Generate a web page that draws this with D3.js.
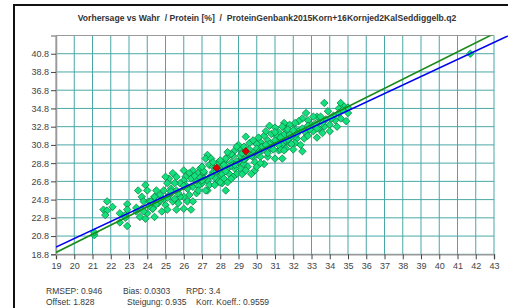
<!DOCTYPE html>
<html>
<head>
<meta charset="utf-8">
<script src="https://cdn.jsdelivr.net/npm/d3@7"></script>
<style>
    body { margin: 0; background: #fff; }
    svg { display: block; font-family: "Liberation Sans", Arial, sans-serif; }
    .tick-label { font-size: 9px; fill: #444; }
    .stat-label { font-size: 8.5px; fill: #3a3a3a; }
    .title { font-size: 8.6px; font-weight: bold; fill: #333; white-space: pre; }
</style>
</head>
<body>
<svg id="chart" width="508" height="308"></svg>
<script>
// Chart text.
var titleText = "Vorhersage vs Wahr  / Protein [%]  /  ProteinGenbank2015Korn+16Kornjed2KalSeddiggelb.q2";

// Axis ranges and ticks.
var xDomain = [19, 43];
var yDomain = [18.8, 42.8];
var xTicks = d3.range(19, 44, 1);
var yTicks = [18.8, 20.8, 22.8, 24.8, 26.8, 28.8, 30.8, 32.8, 34.8, 36.8, 38.8, 40.8];

// Regression statistics (blue line: offset + slope * x), green line is y = x.
var rmsep = 0.946;
var bias = 0.0303;
var rpd = 3.4;
var offset = 1.828;
var slope = 0.935;
var korrKoeff = 0.9559;

// Samples: [Wahr, Vorhersage].
var samples = [
    [21.8, 24.6], [21.6, 23.7], [21.8, 23.6], [22.1, 24.0], [21.7, 23.1], [22.9, 24.3],
    [22.9, 23.7], [22.5, 23.3], [22.8, 23.1], [22.5, 22.3], [22.9, 21.9], [21.1, 20.9],
    [21.1, 21.2], [23.4, 23.5], [23.5, 25.8], [23.9, 26.4], [24.0, 25.8], [23.7, 25.1],
    [23.8, 24.6], [24.1, 24.6], [23.7, 23.8], [23.6, 22.9], [24.0, 23.3], [24.4, 22.9],
    [24.3, 23.8], [23.9, 22.7], [24.4, 25.1],
    [27.3, 29.7], [27.2, 29.3], [27.5, 29.3], [27.4, 28.6], [27.6, 28.4], [26.9, 28.2],
    [26.8, 27.7], [27.1, 27.7], [28.0, 28.0], [28.0, 27.5], [27.9, 26.8], [28.1, 26.6],
    [27.3, 26.9], [27.4, 26.4], [27.3, 25.8], [26.5, 28.0], [26.3, 27.7], [26.4, 27.1],
    [26.7, 26.9], [27.0, 26.6], [27.1, 27.1], [26.1, 27.3], [26.0, 26.9], [26.1, 26.4],
    [26.5, 26.2], [26.7, 25.5], [26.3, 25.3], [26.0, 25.1], [26.2, 24.6], [26.5, 24.6],
    [26.4, 23.7], [25.8, 26.6], [25.6, 27.3], [25.4, 27.7], [25.2, 27.1], [25.5, 26.6],
    [25.3, 26.0], [25.6, 25.8], [25.8, 25.1], [25.7, 24.4], [25.4, 24.6], [25.2, 25.3],
    [25.1, 26.6], [25.0, 27.3], [24.9, 25.8], [24.7, 25.3], [24.5, 25.8], [24.4, 25.1],
    [24.6, 24.4], [25.0, 24.2], [25.1, 23.7], [25.6, 23.7], [26.0, 23.8], [24.2, 24.6],
    [24.3, 23.8], [24.8, 23.5], [26.0, 28.0],
    [29.4, 31.7], [30.7, 32.9], [31.0, 32.7], [31.5, 32.9], [31.6, 32.4], [31.2, 32.2],
    [30.8, 32.0], [30.4, 31.8], [31.1, 31.7], [31.3, 31.5], [30.6, 31.3], [30.2, 31.1],
    [30.0, 30.9], [30.9, 30.9], [31.4, 30.9], [31.6, 30.4], [31.2, 30.2], [30.7, 30.4],
    [30.3, 30.2], [29.9, 30.0], [29.5, 30.0], [29.8, 29.5], [30.2, 29.5], [30.6, 29.5],
    [31.0, 29.3], [31.4, 29.3], [30.4, 28.7], [29.9, 28.9], [29.4, 29.3], [29.1, 29.6],
    [29.1, 30.4], [28.8, 30.2], [28.7, 29.6], [28.4, 29.5], [28.2, 28.9], [28.6, 28.9],
    [29.0, 28.9], [29.3, 28.7], [29.5, 28.4], [29.1, 28.2], [28.8, 28.2], [28.4, 28.2],
    [28.1, 28.4], [27.9, 28.0], [28.1, 27.6], [28.5, 27.6], [28.9, 27.6], [29.2, 27.6],
    [28.2, 27.1], [28.7, 27.3], [28.0, 26.7], [28.4, 26.7], [29.9, 28.0], [30.0, 28.4],
    [29.7, 27.6],
    [33.7, 35.4], [34.6, 35.4], [34.5, 34.8], [34.8, 35.0], [34.6, 33.7], [34.9, 33.4],
    [34.0, 33.0], [33.7, 32.8], [34.0, 32.3], [33.6, 32.1], [33.4, 32.6], [33.5, 33.5],
    [33.3, 33.9], [33.1, 33.9], [32.8, 33.5], [32.7, 34.3], [32.5, 33.7], [32.3, 33.4],
    [32.1, 33.2], [31.8, 33.0], [31.5, 33.2], [31.4, 32.8], [31.7, 32.5], [32.1, 32.5],
    [32.3, 32.3], [32.7, 32.1], [33.1, 32.3], [31.5, 31.9], [31.9, 31.7], [32.2, 31.5],
    [32.6, 31.5], [31.6, 31.2], [32.1, 31.0], [32.4, 30.8], [32.0, 30.3], [32.5, 30.1],
    [31.3, 30.3], [33.0, 33.0], [35.0, 34.3], [33.5, 33.9],
    [28.3, 25.8], [27.2, 25.8], [30.2, 28.8], [31.5, 30.2], [31.8, 31.0],
    [26.9, 27.2], [27.1, 27.9], [27.6, 27.8], [27.7, 27.2], [28.2, 28.6], [28.6, 28.5],
    [28.9, 29.0], [29.2, 29.9], [29.7, 29.6], [30.0, 30.4], [30.3, 30.6], [30.7, 30.9],
    [31.0, 31.3], [31.3, 31.6], [31.7, 31.4], [32.2, 32.0], [32.5, 32.6], [32.9, 32.5],
    [33.2, 33.1], [33.8, 33.6], [34.2, 34.0], [34.5, 34.3], [34.7, 34.6], [35.0, 34.9],
    [34.3, 33.5], [33.9, 34.5], [26.0, 26.3], [25.7, 25.5], [25.3, 25.7], [24.9, 24.8],
    [24.5, 24.3], [24.1, 24.1], [23.8, 23.5], [23.4, 23.9], [22.8, 22.8], [26.6, 27.4],
    [27.0, 26.9], [27.9, 28.9], [28.3, 29.3], [28.6, 29.8], [29.0, 30.8], [28.9, 30.6],
    [29.6, 31.0], [30.1, 31.6], [30.5, 32.3], [31.0, 32.2], [41.7, 40.8],
    [26.2, 26.0], [26.8, 26.3], [27.5, 27.4], [27.8, 27.9], [28.3, 27.9], [28.8, 28.6],
    [29.3, 29.2], [29.6, 30.3], [30.1, 30.0], [30.5, 30.8], [30.9, 30.3], [31.2, 30.8],
    [31.8, 31.9], [32.0, 32.4], [32.8, 32.9], [33.3, 32.6], [33.6, 33.2], [34.1, 33.7],
    [27.0, 28.4], [27.6, 28.9], [28.0, 29.1], [28.4, 30.0], [29.3, 30.6], [29.8, 31.3],
    [25.1, 25.0], [24.7, 24.7], [25.5, 24.9], [26.8, 25.8], [27.7, 26.4], [28.6, 27.1],
    [29.4, 28.0], [30.6, 29.9], [31.9, 30.9], [32.8, 31.8], [33.3, 31.6], [34.4, 32.8]
];

// Red marked samples.
var marked = [[29.4, 30.1], [27.8, 28.3]];

var svg = d3.select("#chart");

var margin = {left: 56, top: 35.5, right: 494, bottom: 254.3};

var x = d3.scaleLinear().domain(xDomain).range([margin.left, margin.right]);
var y = d3.scaleLinear().domain(yDomain).range([margin.bottom, margin.top]);

// Outer window frame.
svg.append("rect")
    .attr("x", 14)
    .attr("y", 5)
    .attr("width", 520)
    .attr("height", 320)
    .attr("fill", "none")
    .attr("stroke", "#111")
    .attr("stroke-width", 2);

// Title.
svg.append("text")
    .attr("class", "title")
    .attr("x", 267)
    .attr("y", 21)
    .attr("text-anchor", "middle")
    .text(titleText);

// Grid.
var grid = svg.append("g");
grid.selectAll("line.v")
    .data(xTicks)
    .enter()
    .append("line")
    .attr("x1", function (d) { return x(d); })
    .attr("x2", function (d) { return x(d); })
    .attr("y1", margin.top)
    .attr("y2", margin.bottom)
    .attr("stroke", "#4aa7a7")
    .attr("stroke-width", 1);
grid.selectAll("line.h")
    .data(yTicks)
    .enter()
    .append("line")
    .attr("x1", margin.left)
    .attr("x2", margin.right)
    .attr("y1", function (d) { return y(d); })
    .attr("y2", function (d) { return y(d); })
    .attr("stroke", "#4aa7a7")
    .attr("stroke-width", 1);

// Plot border (top line).
svg.append("line")
    .attr("x1", margin.left).attr("x2", margin.right)
    .attr("y1", margin.top).attr("y2", margin.top)
    .attr("stroke", "#999");

// Axes.
var xAxis = d3.axisBottom(x)
    .tickValues(xTicks)
    .tickSize(5)
    .tickPadding(3)
    .tickFormat(d3.format("d"));
var yAxis = d3.axisLeft(y)
    .tickValues(yTicks)
    .tickSize(5)
    .tickPadding(2)
    .tickFormat(d3.format(".1f"));

var gx = svg.append("g")
    .attr("transform", "translate(0," + margin.bottom + ")")
    .call(xAxis);
var gy = svg.append("g")
    .attr("transform", "translate(" + margin.left + ",0)")
    .call(yAxis);
[gx, gy].forEach(function (g) {
    g.select(".domain").attr("stroke", "#999").attr("stroke-width", 1.5);
    g.selectAll(".tick line").attr("stroke", "#444");
    g.selectAll(".tick text")
        .attr("class", "tick-label")
        .attr("font-family", null)
        .attr("font-size", null)
        .attr("fill", null);
});

// Clip for lines.
svg.append("clipPath")
    .attr("id", "plot-clip")
    .append("rect")
    .attr("x", margin.left)
    .attr("y", margin.top)
    .attr("width", 520 - margin.left)
    .attr("height", margin.bottom - margin.top);

// Points.
var diamond = d3.symbol().type(d3.symbolSquare).size(28);
svg.append("g")
    .selectAll("path")
    .data(samples)
    .enter()
    .append("path")
    .attr("d", diamond)
    .attr("transform", function (d) {
        return "translate(" + x(d[0]) + "," + y(d[1]) + ") rotate(45)";
    })
    .attr("fill", "#12e07c")
    .attr("stroke", "#0b7a3e")
    .attr("stroke-width", 0.7);
svg.append("g")
    .selectAll("path")
    .data(marked)
    .enter()
    .append("path")
    .attr("d", diamond)
    .attr("transform", function (d) {
        return "translate(" + x(d[0]) + "," + y(d[1]) + ") rotate(45)";
    })
    .attr("fill", "#e00000")
    .attr("stroke", "#900000")
    .attr("stroke-width", 0.7);

// Reference lines.
var lineGroup = svg.append("g").attr("clip-path", "url(#plot-clip)");
var lineX = [19, 45];
lineGroup.append("line")
    .attr("x1", x(lineX[0])).attr("y1", y(lineX[0]))
    .attr("x2", x(lineX[1])).attr("y2", y(lineX[1]))
    .attr("stroke", "#1a8a1a")
    .attr("stroke-width", 1.6);
lineGroup.append("line")
    .attr("x1", x(lineX[0])).attr("y1", y(offset + slope * lineX[0]))
    .attr("x2", x(lineX[1])).attr("y2", y(offset + slope * lineX[1]))
    .attr("stroke", "#0000ee")
    .attr("stroke-width", 1.6);

// Statistics text.
var stats = [
    {text: "RMSEP: " + rmsep, x: 46, y: 294},
    {text: "Bias: " + bias, x: 123, y: 294},
    {text: "RPD: " + rpd, x: 186, y: 294},
    {text: "Offset: " + offset, x: 46, y: 305},
    {text: "Steigung: " + slope, x: 127, y: 305},
    {text: "Korr. Koeff.: " + korrKoeff, x: 196, y: 305}
];
svg.append("g")
    .selectAll("text")
    .data(stats)
    .enter()
    .append("text")
    .attr("class", "stat-label")
    .attr("x", function (d) { return d.x; })
    .attr("y", function (d) { return d.y; })
    .text(function (d) { return d.text; });
</script>
</body>
</html>
